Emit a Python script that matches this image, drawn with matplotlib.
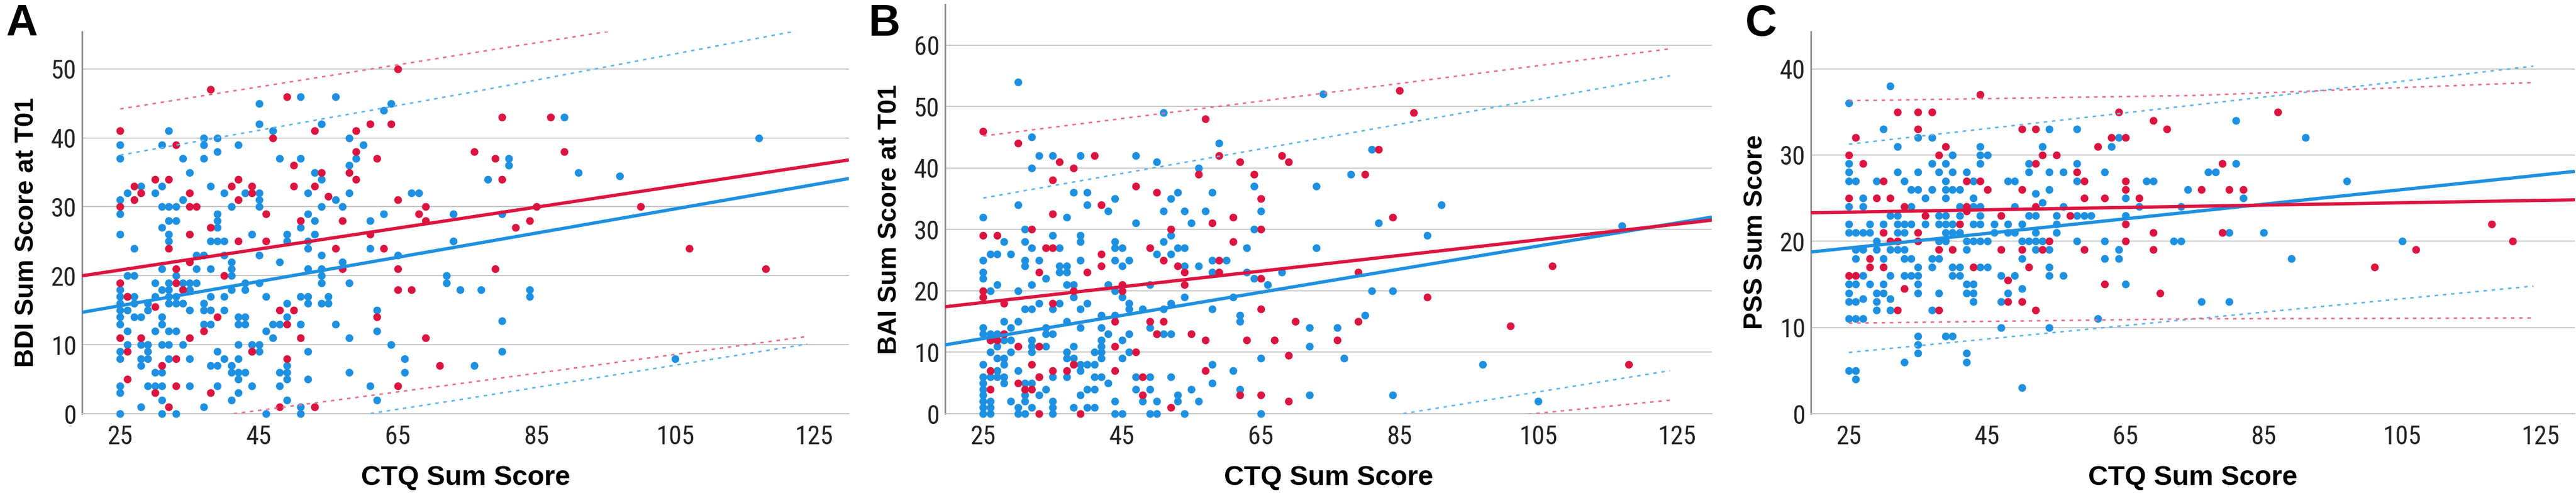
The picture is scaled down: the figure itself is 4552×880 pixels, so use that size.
import numpy as np
import matplotlib
matplotlib.use('Agg')
import matplotlib.pyplot as plt

# ---- data ---------------------------------------------------------------
# (CTQ sum score, outcome score) pairs, blue group and red group

a_blue = [(45,45),(51,46),(56,46),(64,45),(63,44),(45,42),(54,42),(47,41),(32,41),(25,39),(25,37),(31,39),
          (37,40),(37,39),(39,40),(39,38),(42,39),(34,37),(37,37),(48,37),(51,37),(58,40),(60,39),(59,37),
          (58,36),(35,35),(54,34),(53,35),(38,33),(31,33),(28,33),(26,32),(30,32),(34,31),(40,32),(43,32),
          (45,32),(45,31),(45,30),(52,32),(56,31),(58,32),(67,32),(25,31),(25,29),(31,30),(32,30),(33,30),
          (41,30),(54,30),(57,30),(39,29),(39,28),(32,28),(33,28),(31,27),(52,29),(53,28),(61,28),(63,29),
          (51,27),(25,26),(32,26),(32,25),(39,27),(44,26),(49,26),(49,25),(53,26),(38,25),(39,25),(40,25),
          (52,25),(52,24),(27,24),(45,23),(61,24),(54,23),(36,23),(37,23),(40,23),(41,22),(41,21),(41,20),
          (48,22),(65,23),(57,22),(31,21),(36,21),(38,21),(52,21),(54,21),(54,20),(54,19),(26,20),(27,20),
          (33,20),(30,19),(32,19),(34,19),(35,19),(36,19),(58,19),(41,18),(43,19),(43,18),(45,19),(25,18),
          (25,17),(25,16),(25,15),(25,14),(25,13),(31,18),(32,18),(34,18),(35,18),(26,17),(27,17),(27,16),
          (30,17),(32,17),(33,17),(38,17),(40,17),(46,17),(51,17),(52,17),(55,17),(54,16),(55,16),(29,16),
          (29,15),(32,16),(33,16),(34,16),(37,16),(37,15),(38,15),(49,16),(52,16),(26,15),(35,15),(40,15),
          (62,15),(27,14),(28,14),(31,14),(31,13),(42,14),(43,14),(42,13),(43,13),(49,14),(37,13),(38,13),
          (47,13),(48,13),(51,13),(56,13),(26,12),(30,12),(32,12),(33,12),(46,12),(62,12),(47,11),(58,11),
          (28,10),(29,10),(26,10),(31,10),(32,10),(34,10),(42,10),(44,10),(45,10),(64,10),(25,9),(25,8),
          (29,9),(28,8),(29,8),(28,7),(32,8),(35,8),(39,9),(40,8),(42,8),(45,9),(44,9),(52,9),(66,8),(38,7),
          (39,7),(41,7),(41,6),(42,6),(43,6),(49,7),(30,6),(31,6),(48,6),(49,6),(49,5),(58,6),(66,6),(42,5),
          (52,5),(25,4),(25,3),(29,4),(30,4),(31,4),(35,4),(39,4),(44,4),(48,4),(61,4),(42,3),(31,2),(41,2),
          (49,2),(62,2),(28,1),(37,1),(51,1),(53,1),(25,0),(31,0),(33,0),(46,0),(51,0),
          (68,32),(73,29),(73,25),(72,20),(72,19),(74,18),(77,18),(76,7),(78,34),(81,37),(81,36),(80,29),
          (80,13.5),(80,9),(84,18),(84,17),(89,43),(91,35),(97,34.5),(105,8),(117,40)]

a_red = [(25,41),(25,30),(25,19),(25,11),(26,17),(26,9),(26,5),(27,33),(27,31),(28,32),(28,11),(30,34),
         (32,34),(30,15.5),(31,7),(30,3),(32,1),(33,39),(33,21),(33,19),(34,18),(35,32),(35,30),(36,30),
         (35,26),(35,22),(35,11),(33,8),(33,4),(32,24),(38,47),(38,27),(37,12),(38,3),(39,14),(40,20),
         (41,33),(42,34),(42,31),(42,25),(44,33),(44,32),(44,9),(46,29),(46,25),(47,40),(48,15),(49,13),
         (49,46),(49,8),(50,36),(50,33),(50,15),(51,28),(51,11),(48,1),(53,41),(53,1),(53,33),(54,35),
         (55,31.5),(57,28),(56,24),(57,21),(58,35),(59,34),(59,38),(59,41),(61,42),(64,42),(62,37),(61,26),
         (63,24),(62,14),(65,50),(65,31),(65,21),(65,18),(67,18),(65,4),(68,29),(69,30),(69,28),(69,11),
         (71,7),(76,38),(79,37),(80,34),(80,43),(87,43),(89,38),(85,30),(84,28),(82,27),(100,30),(107,24),
         (118,21),(79,21)]

b_blue = [(30,54),(51,49),(32,45),(33,42),(35,42),(39,42),(47,42),(50,41),(59,44),(56,40),(32,40),(38,36),
          (40,36),(40,34),(44,35),(43,33),(30,34),(37,32),(25,32),(52,35),(53,36),(58,36),(64,37),(51,33),
          (54,33),(57,33),(65,33),(47,31),(55,31),(64,30),(31,30),(35,29),(39,29),(39,28),(28,28),(31,28),
          (32,27),(36,27),(44,28),(44,27),(45,27),(51,28),(52,29),(53,27),(54,27),(63,27),(26,26),(27,26),
          (29,26),(25,25),(31,25),(31,24),(33,25),(39,25),(44,25),(45,24),(46,25),(50,26),(52,26),(58,25),
          (60,25),(36,24),(37,24),(36,23),(37,23),(25,23),(25,22),(34,22),(54,24),(56,24),(58,23),(63,23),
          (64,22),(68,23),(27,21),(32,21),(37,21),(38,21),(38,19),(43,21),(49,21),(66,21),(26,20),(30,20),
          (44,20),(45,19),(46,18),(54,19),(61,19),(33,18),(36,18),(40,18),(31,17),(32,17),(35,17),(39,17),
          (46,17),(48,17),(51,17),(52,18),(58,17),(42,16),(44,16),(62,16),(62,15),(28,15),(30,15),(37,15),
          (25,14),(25,13),(26,13),(27,13),(28,13),(29,14),(34,14),(34,13),(35,13),(39,14),(42,14),(43,13),
          (46,13),(49,14),(50,13),(51,13),(52,13),(26,12),(28,12),(29,12),(32,12),(32,11),(33,11),(34,11),
          (38,11),(42,12),(42,11),(42,10),(42,9),(45,12),(46,10),(27,11),(26,10),(29,10),(32,10),(37,10),
          (37,9),(38,9),(41,10),(27,9),(28,9),(28,8),(25,8),(39,8),(40,8),(41,8),(39,7),(45,9),(58,8),(65,9),
          (27,7),(30,7),(25,6),(25,5),(25,4),(25,3),(25,2),(25,1),(25,0),(26,6),(26,2),(26,1),(26,0),(27,6),
          (28,6),(28,5),(31,5),(32,5),(31,3),(31,2),(33,6),(33,3),(34,4),(35,6),(35,2),(35,1),(35,0),(37,6),
          (39,3),(40,4),(41,4),(41,6),(42,6),(43,5),(29,2),(30,1),(30,0),(31,0),(32,1),(38,1),(40,1),(41,1),
          (44,2),(44,0),(45,0),(47,6),(49,6),(47,4),(49,4),(48,2),(50,2),(49,0),(50,0),(52,6),(53,3),(53,2),
          (54,0),(55,4),(56,2),(58,5),(61,7),(62,4),(65,0),
          (72,3),(72,11),(73,27),(73,37),(72,14),(74,52),(76,14),(77,9),(78,39),(80,16),(81,43),(82,31),
          (81,20),(84,20),(84,3),(89,29),(91,34),(97,8),(105,2),(117,30.6)]

b_red = [(25,46),(30,44),(36,41),(38,40),(41,42),(35,38),(35,32.5),(42,34),(47,37),(50,36),(57,48),(56,39),
         (59,42),(62,41),(64,39),(65,35),(65,30),(68,42),(69,41),(25,29),(27,29),(32,30),(34,27),(35,27),
         (52,30),(58,31),(61,32),(61,28),(42,26),(49,27),(51,25),(42,24),(40,23),(33,23),(53,24),(54,23),
         (59,25),(59,23),(65,22),(54,21),(45,21),(45,20),(38,20),(25,20),(25,19),(28,18),(35,18),(65,17),
         (44,15),(49,15),(51,15),(50,13),(55,13),(57,12),(63,12),(67,12),(70,15),(69,9.5),(26,12),(27,12),
         (28,13),(30,11),(33,11),(44,11),(47,10),(32,8),(26,7),(35,7),(37,7),(38,8),(44,7),(33,6),(30,5),
         (31,4),(32,4),(26,4),(48,6),(48,3),(57,7),(62,3),(65,3),(69,2),(52,1),(39,0),(33,0),
         (76,12),(79,15),(79,23),(80,39),(82,43),(84,32),(85,52.6),(87,49),(89,19),(101,14.3),(107,24),
         (118,8)]

c_blue = [(31,38),(25,36),(30,33),(35,32),(37,32),(32,31),(44,31),(54,33),(58,33),(64,32),(63,31),(53,31),
          (40,30),(44,30),(45,30),(44,29),(25,29),(25,28),(25,27),(26,27),(37,29),(39,29),(51,29),(51,28),
          (58,29),(32,28),(35,28),(38,28),(40,28),(42,28),(54,28),(56,28),(62,28),(68,27),(29,27),(33,27),
          (39,27),(39,26),(40,26),(41,26),(43,27),(48,27),(49,27),(58,27),(34,26),(35,26),(37,26),(54,26),
          (52,25.5),(25,24),(27,25),(27,24),(36,25),(39,25),(43,25),(65,25),(34,24),(41,24),(43,24),(44,24),
          (49,24),(53,24.5),(56,24),(67,24),(31,23),(32,23),(38,23),(39,23),(41,23),(44,23),(51,23),(52,23),
          (55,23),(58,23),(59,23),(60,23),(65,23),(25,22),(28,22),(30,22),(32,22),(33,22),(34,22),(36,22),
          (38,22),(39,22),(40,22),(43,22),(44,22),(46,22),(48,22),(50,22),(55,22),(25,21),(26,21),(27,21),
          (28,21),(32,21),(33,21),(39,21),(40,21),(41,21),(46,21),(48,21),(49,21),(52,21),(55,21),(29,20),
          (29,19),(38,20),(39,20),(42,20),(43,20),(44,20),(45,20),(50,20),(51,20),(52,20),(53,20),(58,20),
          (62,20),(26,19),(27,19),(31,19),(32,19),(33,19),(42,19),(52,19),(54,19),(64,19),(26,18),(30,18),
          (33,18),(34,18),(37,18),(38,18),(50,18),(62,18),(64,18),(35,17),(37,17),(40,17),(41,17),(44,17),
          (45,17),(54,17),(27,16),(31,16),(33,16),(34,16),(35,16),(40,16),(41,16),(47,16),(49,16),(54,16),
          (56,16),(25,15),(26,15),(28,15),(30,15),(35,15),(42,15),(43,15),(65,15),(25,14),(29,14),(30,14),
          (35,14),(38,14),(42,14),(43,14),(48,14),(50,14.5),(25,13),(26,13),(27,13.3),(29,13),(31,13.3),
          (43,13),(47,13),(29,12),(31,12),(37,12),(25,11),(26,11),(27,11),(61,11),(47,10),(54,10),(35,9),
          (35,8),(35,7),(39,9),(40,9),(42,7),(42,6),(33,6),(25,5),(26,5),(26,4),(50,3),
          (69,27),(73,24),(72,20),(73,20),(74,26),(76,13),(77,28),(78,28),(80,21),(80,13),(81,34),(81,29),
          (82,25),(85,21),(89,18),(91,32),(97,27),(105,20)]

c_red = [(44,37),(32,35),(35,35),(37,35),(35,33),(64,35),(50,33),(52,33),(69,34),(26,32),(39,31),(63,32),
         (65,32),(61,31),(25,30),(38,30),(53,30),(55,30),(27,29),(52,29),(58,28),(59,27),(30,27),(42,27),
         (44,27),(45,26),(50,26),(65,27),(65,26),(25,25),(29,25),(31,25),(59,25),(62,25),(67,25),(33,24),
         (42,24),(42,23.5),(52,24),(36,23),(47,23),(57,23),(41,22),(65,22),(30,21),(35,21),(69,21),(31,20),
         (32,20),(35,20),(54,20),(65,20),(38,19),(40,19),(47,19),(50,19),(53,19),(59,19),(69,19),(28,18),
         (28,17),(30,17),(43,17),(51,17),(25,16),(26,16),(48,15.5),(62,15),(33,14.5),(70,14),(48,13),
         (50,13),(32,12),(38,12),(52,12),
         (71,33),(76,26),(79,29),(79,21),(80,26),(82,26),(87,35),(101,17),(107,19),(118,22),(121,20)]

# fitted lines: value at the left and right edge of the x range
fit_x = [19.5, 130]
a_fit_red, a_fit_blue = [20.0, 36.8], [14.7, 34.1]
b_fit_red, b_fit_blue = [17.4, 31.5], [11.2, 32.0]
c_fit_red, c_fit_blue = [23.3, 24.8], [18.75, 28.1]

# prediction interval lines (upper, lower) at CTQ = 25, 75, 124
pi_x = [25, 75, 124]
a_pi_red = ([44.2, 52.2, 60.0], [-2.2, 4.5, 11.2])
a_pi_blue = ([37.5, 46.5, 55.8], [-5.6, 2.2, 10.1])
b_pi_red = ([45.2, 52.3, 59.4], [-9.0, -3.3, 2.2])
b_pi_blue = ([35.1, 45.1, 55.0], [-10.7, -1.9, 7.0])
c_pi_red = ([36.3, 36.9, 38.4], [10.5, 11.0, 11.1])
c_pi_blue = ([31.25, 35.8, 40.3], [7.1, 11.0, 14.8])

x_ticks = [25, 45, 65, 85, 105, 125]
ylabels = ['BDI Sum Score at T01', 'BAI Sum Score at T01', 'PSS Sum Score']
yticks = [[0, 10, 20, 30, 40, 50], [0, 10, 20, 30, 40, 50, 60], [0, 10, 20, 30, 40]]
ytops = [55.4, 66.6, 44.3]
letters = ['A', 'B', 'C']

# ---- styling -------------------------------------------------------------
RED = '#DC1440'
BLUE = '#1E90E1'
RED_LIGHT = '#E8708A'
BLUE_LIGHT = '#62B4EA'
GRID = '#C6C6C6'
W, H = 4552, 880

narrow = ['Roboto Condensed', 'DejaVu Sans']
bold = ['Liberation Sans', 'DejaVu Sans']

fig = plt.figure(figsize=(W / 100, H / 100), dpi=100)

# axes boxes in pixels: left, top, right, bottom
boxes = [(145, 56, 1500, 731), (1670, 8, 3025, 731), (3200, 56, 4550, 731)]
letter_x = [10, 1535, 3084]

panels = [
    (a_blue, a_red, a_fit_blue, a_fit_red, a_pi_blue, a_pi_red),
    (b_blue, b_red, b_fit_blue, b_fit_red, b_pi_blue, b_pi_red),
    (c_blue, c_red, c_fit_blue, c_fit_red, c_pi_blue, c_pi_red),
]

for i, (blue, red, fblue, fred, piblue, pired) in enumerate(panels):
    l, t, r, b = boxes[i]
    ax = fig.add_axes([l / W, 1 - b / H, (r - l) / W, (b - t) / H])
    wpx, hpx = r - l, b - t

    ax.set_xlim(19.5, 130)
    ax.set_ylim(0, ytops[i])
    ax.set_xticks(x_ticks)
    ax.set_yticks(yticks[i])
    ax.grid(axis='y', color=GRID, lw=1.4, zorder=0)
    ax.set_axisbelow(True)
    for s in ['top', 'right']:
        ax.spines[s].set_visible(False)
    ax.spines['bottom'].set_color(GRID)
    ax.spines['bottom'].set_linewidth(1.4)
    ax.spines['left'].set_color('#8A8A8A')
    ax.spines['left'].set_linewidth(2.0)
    ax.tick_params(length=0, labelsize=33, labelcolor='#222222')
    ax.tick_params(axis='x', pad=14)
    ax.tick_params(axis='y', pad=7)
    for lab in ax.get_xticklabels() + ax.get_yticklabels():
        lab.set_family(narrow)

    bx, by = np.array(blue).T
    rx, ry = np.array(red).T
    ax.scatter(bx, by, s=98, color=BLUE, linewidths=0, zorder=3, clip_on=False)
    ax.scatter(rx, ry, s=98, color=RED, linewidths=0, zorder=3.5, clip_on=False)

    for vals in piblue:
        ax.plot(pi_x, vals, color=BLUE_LIGHT, lw=2.0, ls=(0, (2.2, 3.0)), zorder=4)
    for vals in pired:
        ax.plot(pi_x, vals, color=RED_LIGHT, lw=2.0, ls=(0, (2.2, 3.0)), zorder=4)

    ax.plot(fit_x, fblue, color=BLUE, lw=4.2, zorder=5, solid_capstyle='butt')
    ax.plot(fit_x, fred, color=RED, lw=4.2, zorder=5.5, solid_capstyle='butt')

    ax.set_xlabel('CTQ Sum Score', fontsize=35, fontweight='bold', family=bold)
    ax.xaxis.set_label_coords(0.5, -91 / hpx)
    ax.xaxis.label.set_va('top')
    ax.set_ylabel(ylabels[i], fontsize=33, fontweight='bold', family=bold)
    ax.yaxis.set_label_coords(-76 / wpx, 0.475)

    fig.text(letter_x[i] / W, 1 - 63 / H, letters[i], fontsize=56, fontweight='bold',
             family=bold, ha='left', va='baseline')

fig.savefig('out.png', dpi=100)
